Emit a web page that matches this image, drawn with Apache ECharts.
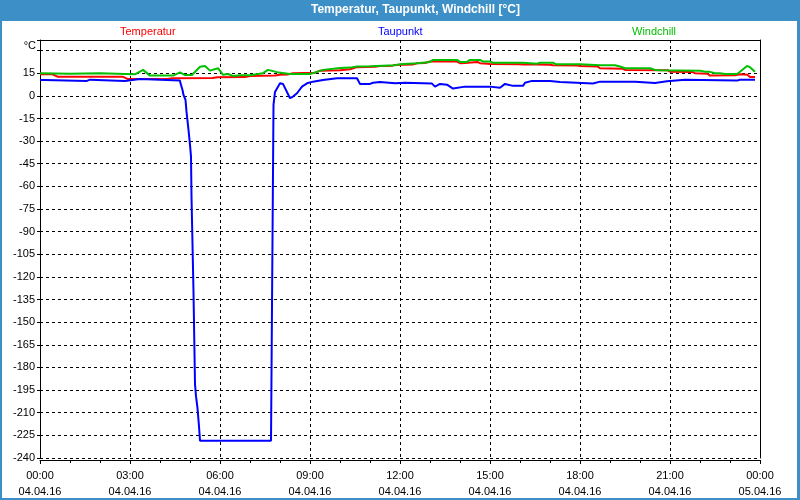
<!DOCTYPE html>
<html>
<head>
<meta charset="utf-8">
<script src="https://cdn.jsdelivr.net/npm/echarts@6/dist/echarts.min.js"></script>
<style>
  html, body { margin: 0; padding: 0; background: #ffffff; }
  #chart { width: 800px; height: 500px; }
</style>
</head>
<body>
<div id="chart"></div>
<script>
// ---- data ----
const yTicks = [-240, -225, -210, -195, -180, -165, -150, -135, -120, -105, -90, -75, -60, -45, -30, -15, 0, 15];
const xTickHours = [0, 3, 6, 9, 12, 15, 18, 21, 24];

const tempTimes = ["00:00","00:25","00:35","02:45","02:55","04:15","04:25","05:45","05:55","06:50","07:00","07:50","08:00","08:15","08:26","09:10","09:20","10:00","10:20","10:34","11:10","11:20","11:45","11:50","12:25","12:34","12:50","13:00","13:54","14:00","14:10","14:14","14:35","14:40","14:55","15:00","16:00","16:06","16:30","16:34","17:00","17:06","17:55","18:00","18:35","18:40","19:25","19:30","20:55","21:00","21:45","21:50","22:15","22:20","23:10","23:20","23:35","23:40","23:50"];
const tempValues = [14.3,14.3,12.7,12.7,11.2,11.2,11.7,11.8,12.3,12.4,13.2,13.4,13.9,14.2,15.0,15.3,16.7,17.0,17.6,19.0,19.2,19.8,20.0,20.5,20.7,21.6,21.8,22.7,22.7,21.6,21.8,22.7,22.5,21.6,21.3,21.1,21.0,20.7,20.8,20.9,20.6,20.3,20.1,19.8,19.5,18.3,18.0,17.2,17.0,16.0,15.8,15.0,14.6,13.4,13.6,14.3,14.0,12.5,12.5];

const dewTimes = ["00:00","00:10","00:12","01:34","01:36","01:40","01:42","02:50","02:52","03:20","03:22","04:40","04:41","04:45","04:47","04:51","04:53","04:57","05:00","05:02","05:03","05:07","05:10","05:12","05:15","05:18","05:20","07:42","07:47","07:50","08:00","08:06","08:20","08:26","08:34","08:44","08:54","09:06","09:26","09:54","10:34","10:40","11:00","11:06","11:20","11:50","12:10","13:04","13:10","13:20","13:34","13:46","13:50","14:10","15:00","15:20","15:30","15:46","16:06","16:10","16:24","17:00","17:20","18:26","18:30","18:40","19:50","20:30","20:54","21:30","23:14","23:20","23:50"];
const dewValues = [10.5,10.5,9.9,9.9,10.7,10.7,9.9,9.9,11.2,11.2,10.1,10.1,8.3,3.9,0.6,-2.7,-10.5,-22.6,-32.5,-40.3,-66.8,-130,-191,-199,-207,-219,-228.5,-228.5,-6,2.6,8.3,7.9,-1.6,-0.5,1.7,6.1,8.3,9.4,10.5,11.7,11.7,7.9,7.9,8.7,9.2,8.3,8.7,8.1,6.1,7.9,7.4,4.8,4.8,6.1,6.1,5.4,7.9,6.6,6.6,8.7,9.9,9.9,9.2,8.2,8.7,9.4,9.4,8.5,9.7,10.7,10.1,10.7,10.7];

const windTimes = ["00:00","01:00","02:00","02:50","03:10","03:26","03:40","04:26","04:40","04:50","05:04","05:20","05:30","05:40","05:56","06:06","06:16","06:26","06:40","07:00","07:26","07:36","07:54","08:20","09:00","09:14","09:26","10:00","10:20","10:34","11:00","11:50","12:00","12:34","13:00","13:06","13:54","14:00","14:14","14:20","14:40","14:46","15:00","15:06","16:06","16:10","16:34","16:40","17:06","17:12","18:00","18:20","18:40","19:10","19:20","19:30","20:20","20:30","20:40","22:00","22:10","22:20","22:30","22:40","22:50","23:14","23:20","23:34","23:40","23:50"];
const windValues = [15.0,14.6,14.9,14.5,14.3,17.2,13.4,13.4,15.6,13.8,13.8,19.3,19.8,16.7,18.3,13.9,14.5,13.2,13.7,13.7,15.0,17.2,15.7,14.5,14.5,15.9,17.2,18.5,18.7,19.4,19.6,20.3,20.9,21.6,22.5,23.8,23.8,22.5,22.5,23.8,23.8,22.7,22.7,22.0,22.0,21.3,21.3,22.0,22.0,20.9,20.9,20.6,20.3,20.3,19.4,18.3,18.3,17.2,17.0,16.7,15.9,15.9,15.0,15.0,14.5,14.5,16.0,19.8,19.0,16.0];

// ---- helpers ----
function toHours(t) { const p = t.split(':'); return +p[0] + (+p[1]) / 60; }
function pairs(times, values) { return times.map((t, i) => [toHours(t), values[i]]); }

const FONT = 'Liberation Sans';
const chart = echarts.init(document.getElementById('chart'), null, { renderer: 'canvas' });

const option = {
  animation: false,
  backgroundColor: '#ffffff',
  textStyle: { fontFamily: FONT },
  title: {
    text: 'Temperatur, Taupunkt, Windchill [°C]',
    left: 311, top: 4, padding: 0,
    textStyle: { color: '#ffffff', fontWeight: 'bold', fontSize: 12, fontFamily: FONT }
  },
  legend: [
    { data: [{ name: 'Temperatur', textStyle: { color: '#ff0000' } }], left: 115, top: 26, padding: 0, icon: 'none', itemWidth: 0, itemHeight: 12, selectedMode: false, textStyle: { fontSize: 11, fontFamily: FONT } },
    { data: [{ name: 'Taupunkt', textStyle: { color: '#0000ff' } }], left: 373, top: 26, padding: 0, icon: 'none', itemWidth: 0, itemHeight: 12, selectedMode: false, textStyle: { fontSize: 11, fontFamily: FONT } },
    { data: [{ name: 'Windchill', textStyle: { color: '#00c000' } }], left: 627, top: 26, padding: 0, icon: 'none', itemWidth: 0, itemHeight: 12, selectedMode: false, textStyle: { fontSize: 11, fontFamily: FONT } }
  ],
  graphic: [
    { type: 'rect', shape: { x: 0, y: 0, width: 800, height: 21 }, style: { fill: '#3c8fc7' }, z: -1 },
    { type: 'rect', shape: { x: 0, y: 0, width: 2, height: 500 }, style: { fill: '#3c8fc7' }, z: -1 },
    { type: 'rect', shape: { x: 797, y: 0, width: 3, height: 500 }, style: { fill: '#3c8fc7' }, z: -1 },
    { type: 'rect', shape: { x: 0, y: 498, width: 800, height: 2 }, style: { fill: '#3c8fc7' }, z: -1 }
  ],
  grid: { left: 40, right: 40, top: 40, bottom: 42, containLabel: false },
  xAxis: [
    {
      type: 'value', min: 0, max: 24, interval: 3, offset: 2, position: 'bottom',
      axisLine: { onZero: false, lineStyle: { color: '#000', width: 1 } },
      axisTick: { show: true, length: 4, lineStyle: { color: '#000' } },
      minorTick: { show: true, splitNumber: 3, length: 3, lineStyle: { color: '#000' } },
      splitLine: { show: true, lineStyle: { color: '#000', type: [3, 3], width: 1 } },
      axisLabel: {
        color: '#000', fontSize: 11, fontFamily: FONT, lineHeight: 16, margin: 8,
        formatter: function (v) {
          if (xTickHours.indexOf(v) < 0) return '';
          const h = v % 24;
          const d = v < 24 ? '04.04.16' : '05.04.16';
          return (h < 10 ? '0' + h : '' + h) + ':00\n' + d;
        }
      }
    },
    {
      type: 'value', min: 0, max: 24, position: 'top',
      axisLine: { show: true, onZero: false, lineStyle: { color: '#000', width: 1 } },
      axisTick: { show: false }, axisLabel: { show: false }, splitLine: { show: false }
    }
  ],
  yAxis: [
    {
      type: 'value', min: -240, max: 37, interval: 15, position: 'left',
      name: '°C', nameLocation: 'end', nameGap: -6,
      nameTextStyle: { color: '#000', fontSize: 11, fontFamily: FONT, align: 'right', verticalAlign: 'middle', padding: [0, 4, 0, 0] },
      axisLine: { show: true, onZero: false, lineStyle: { color: '#000', width: 1 } },
      axisTick: { show: true, length: 3, lineStyle: { color: '#000' } },
      splitLine: { show: true, lineStyle: { color: '#000', type: [3, 3], width: 1 } },
      axisLabel: {
        color: '#000', fontSize: 11, fontFamily: FONT, margin: 5,
        formatter: function (v) { return yTicks.indexOf(v) >= 0 ? String(v) : ''; }
      }
    },
    {
      type: 'value', min: -240, max: 37, position: 'right',
      axisLine: { show: true, onZero: false, lineStyle: { color: '#000', width: 1 } },
      axisTick: { show: false }, axisLabel: { show: false }, splitLine: { show: false }
    }
  ],
  series: [
    { name: 'Temperatur', type: 'line', data: pairs(tempTimes, tempValues), showSymbol: false, symbol: 'none', lineStyle: { color: '#ff0000', width: 2 }, itemStyle: { color: '#ff0000' }, z: 3 },
    { name: 'Taupunkt', type: 'line', data: pairs(dewTimes, dewValues), showSymbol: false, symbol: 'none', lineStyle: { color: '#0000ff', width: 2 }, itemStyle: { color: '#0000ff' }, z: 3 },
    { name: 'Windchill', type: 'line', data: pairs(windTimes, windValues), showSymbol: false, symbol: 'none', lineStyle: { color: '#00c000', width: 2 }, itemStyle: { color: '#00c000' }, z: 4 }
  ]
};
chart.setOption(option);
</script>
</body>
</html>
